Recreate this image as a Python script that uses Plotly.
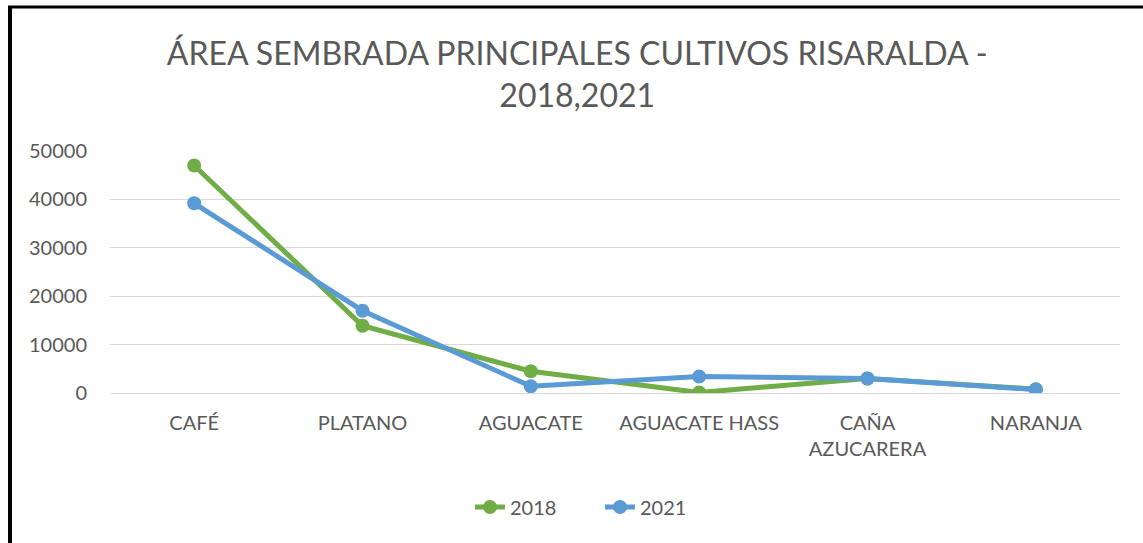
import plotly.graph_objects as go

categories = ["CAFÉ", "PLATANO", "AGUACATE", "AGUACATE HASS", "CAÑA<br>AZUCARERA", "NARANJA"]
values_2018 = [47000, 13900, 4500, 100, 3000, 800]
values_2021 = [39200, 17000, 1400, 3400, 3000, 700]
y_ticks = [0, 10000, 20000, 30000, 40000, 50000]

FONT = "Lato, 'Open Sans', sans-serif"
GRAY = "#595959"

fig = go.Figure()
fig.add_trace(go.Scatter(x=categories, y=values_2018, name="2018", mode="lines+markers",
                         line=dict(color="#70AD47", width=5), marker=dict(size=14, color="#70AD47")))
fig.add_trace(go.Scatter(x=categories, y=values_2021, name="2021", mode="lines+markers",
                         line=dict(color="#5B9BD5", width=5), marker=dict(size=14, color="#5B9BD5")))

L, R, T, B = 110, 23, 151, 150
W, H = 1143, 543
pw, ph = W - L - R, H - T - B

def px2x(px):
    return (px - L) / pw

def py2y(py):
    return (H - B - py) / ph

fig.update_layout(
    width=W, height=H,
    margin=dict(l=L, r=R, t=T, b=B),
    paper_bgcolor="white", plot_bgcolor="white",
    font=dict(family=FONT, color=GRAY, size=20),
    title=dict(text="ÁREA SEMBRADA PRINCIPALES CULTIVOS RISARALDA -<br>2018,2021",
               x=0.505, xanchor="center", y=1 - 65 / H, yanchor="top",
               font=dict(family=FONT, size=32, color=GRAY)),
    xaxis=dict(range=[-0.5, 5.5], showgrid=False, showline=False, ticks="", ticklabelstandoff=16,
               tickfont=dict(size=20, color=GRAY)),
    yaxis=dict(range=[0, 50000], tickvals=y_ticks, tickformat="d", showgrid=True, gridcolor="#d9d9d9",
               gridwidth=1.3, zeroline=True, zerolinecolor="#d9d9d9", zerolinewidth=1.3,
               ticks="", ticklabelstandoff=22, tickfont=dict(size=20, color=GRAY)),
    legend=dict(orientation="h", x=px2x(470), xanchor="left", y=py2y(507), yanchor="middle",
                font=dict(size=20, color=GRAY), entrywidth=85),
    showlegend=True,
    shapes=[
        dict(type="line", xref="paper", yref="paper", x0=px2x(10), x1=px2x(10), y0=py2y(6), y1=py2y(545),
             line=dict(color="black", width=4)),
        dict(type="line", xref="paper", yref="paper", x0=px2x(8), x1=px2x(1145), y0=py2y(7), y1=py2y(7),
             line=dict(color="black", width=3)),
    ],
)

fig.write_html("out.html", config={"displayModeBar": False},
               post_script="document.body.style.margin='0';document.body.style.padding='0';")
